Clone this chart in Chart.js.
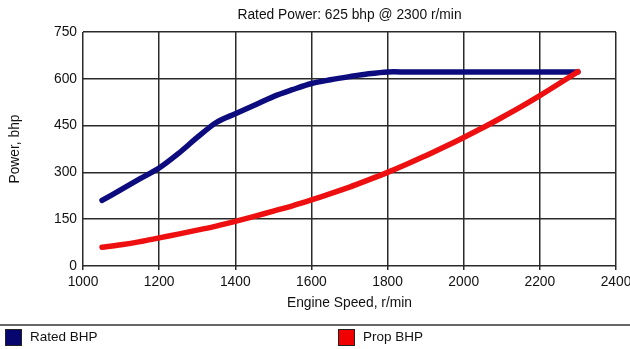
<!DOCTYPE html>
<html>
<head>
<meta charset="utf-8">
<script src="https://cdn.jsdelivr.net/npm/chart.js@4/dist/chart.umd.min.js"></script>
<style>
  body { margin: 0; background: #fff; }
  #wrap { width: 630px; height: 349px; }
</style>
</head>
<body>
<div id="wrap"><canvas id="power" width="630" height="349"></canvas></div>
<script>
// engine speed, r/min
const rpm = [1050, 1100, 1150, 1200, 1250, 1300, 1350, 1400, 1450, 1500, 1550, 1600, 1650, 1700,
             1750, 1800, 1850, 1900, 1950, 2000, 2050, 2100, 2150, 2200, 2250, 2300];
// rated power curve, bhp
const ratedBhp = [210, 245, 280, 314, 360, 412, 460, 488, 515, 543, 565, 585, 597, 607,
                  616, 622, 622, 622, 622, 622, 622, 622, 622, 622, 622, 622];
// propeller demand curve, bhp
const propBhp = [60, 68, 78, 90, 102, 115, 128, 143, 159, 176, 193, 212, 232, 253,
                 276, 300, 326, 353, 382, 412, 443, 476, 510, 546, 584, 623];

const xTicks = { min: 1000, max: 2400, step: 200 };
const yTicks = { min: 0, max: 750, step: 150 };

const titleText = 'Rated Power: 625 bhp @ 2300 r/min';
const xTitle = 'Engine Speed, r/min';
const yTitle = 'Power, bhp';

const FONT = { family: '"Liberation Sans", Arial, sans-serif', size: 13.8 };
const INK = '#111';
const GRID = '#2a2a2a';

const pts = vals => rpm.map((r, i) => ({ x: r, y: vals[i] }));
const plain = v => String(v);

// legend strip under the axis
const bottomLegend = {
  id: 'bottomLegend',
  afterDraw(chart) {
    const c = chart.ctx;
    c.save();
    c.strokeStyle = '#333';
    c.lineWidth = 1.5;
    c.beginPath();
    c.moveTo(0, 325);
    c.lineTo(chart.width, 325);
    c.stroke();

    const slots = [5, 338];
    c.font = `13.5px ${FONT.family}`;
    c.textBaseline = 'middle';
    chart.data.datasets.forEach((ds, i) => {
      const x = slots[i];
      c.fillStyle = ds.swatch;
      c.fillRect(x, 329, 17, 17);
      c.strokeStyle = '#222';
      c.lineWidth = 1;
      c.strokeRect(x + 0.5, 329.5, 16, 16);
      c.fillStyle = INK;
      c.fillText(ds.label, x + 25, 337);
    });
    c.restore();
  }
};

new Chart(document.getElementById('power'), {
  type: 'line',
  data: {
    datasets: [
      {
        label: 'Rated BHP', data: pts(ratedBhp), xAxisID: 'x', yAxisID: 'y',
        borderColor: '#0c0c7e', swatch: '#06066e', borderWidth: 5.5,
        borderCapStyle: 'round', borderJoinStyle: 'round',
        pointRadius: 0, tension: 0.3, order: 1
      },
      {
        label: 'Prop BHP', data: pts(propBhp), xAxisID: 'x', yAxisID: 'y',
        borderColor: '#ee1010', swatch: '#f00000', borderWidth: 5.5,
        borderCapStyle: 'round', borderJoinStyle: 'round',
        pointRadius: 0, tension: 0.3, order: 0
      }
    ]
  },
  options: {
    responsive: false,
    animation: false,
    layout: { padding: { left: 0, right: 14, top: 0, bottom: 24 } },
    plugins: { legend: { display: false }, tooltip: { enabled: false }, title: { display: false } },
    scales: {
      x: {
        type: 'linear', position: 'bottom',
        min: xTicks.min, max: xTicks.max,
        // "2400" may hang past the plot edge; keep the plot width fixed
        afterFit: s => { s.height = 59; s.paddingLeft = 0; s.paddingRight = 0; },
        border: { display: false },
        grid: { color: GRID, lineWidth: 1.5, tickLength: 4 },
        ticks: { stepSize: xTicks.step, color: INK, font: FONT, padding: 4, maxRotation: 0, callback: plain },
        title: { display: true, text: xTitle, color: INK, font: FONT, padding: { top: 0, bottom: 14 } }
      },
      xTop: {
        type: 'linear', position: 'top', axis: 'x',
        afterFit: s => { s.height = 32; s.paddingLeft = 0; s.paddingRight = 0; },
        border: { display: false },
        grid: { display: false },
        ticks: { display: false },
        title: { display: true, text: titleText, color: INK, font: FONT, padding: { top: 7, bottom: 0 } }
      },
      y: {
        type: 'linear', position: 'left',
        min: yTicks.min, max: yTicks.max,
        afterFit: s => { s.width = 83; s.paddingTop = 0; s.paddingBottom = 0; },
        border: { display: false },
        grid: { color: GRID, lineWidth: 1.5, drawTicks: false },
        ticks: { stepSize: yTicks.step, color: INK, font: FONT, padding: 6, callback: plain },
        title: { display: true, text: yTitle, color: INK, font: FONT, padding: { top: 7, bottom: 0 } }
      }
    }
  },
  plugins: [bottomLegend]
});
</script>
</body>
</html>
